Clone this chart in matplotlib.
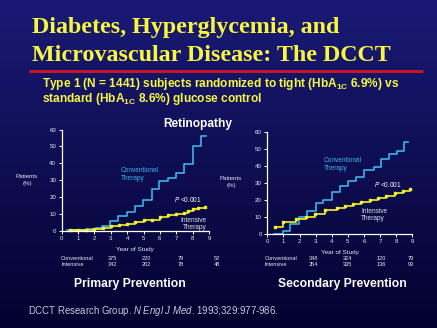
import numpy as np
import matplotlib
matplotlib.use("Agg")
import matplotlib.pyplot as plt
from matplotlib.colors import LinearSegmentedColormap

plt.rcParams['font.family'] = ['Liberation Sans', 'DejaVu Sans']
plt.rcParams['mathtext.fontset'] = 'custom'
plt.rcParams['mathtext.rm'] = 'Liberation Sans:bold'
plt.rcParams['mathtext.it'] = 'Liberation Sans:italic'

W, H = 437, 328

# ---------------- data ----------------
title_lines = ["Diabetes, Hyperglycemia, and", "Microvascular Disease: The DCCT"]
subtitle_lines = ["Type 1 (N = 1441) subjects randomized to tight (HbA$_{\\mathrm{1C}}$ 6.9%) vs",
                  "standard (HbA$_{\\mathrm{1C}}$ 8.6%) glucose control"]
x_ticks = [0, 1, 2, 3, 4, 5, 6, 7, 8, 9]
y_ticks = [0, 10, 20, 30, 40, 50, 60]

# Primary prevention
prim_conv_x = [0.3, 1.5, 2.1, 2.45, 2.95, 3.46, 3.97, 4.48, 4.99, 5.5, 5.97, 6.48, 6.99, 7.47, 8.0, 8.51, 8.8]
prim_conv_y = [0.2, 0.8, 1.4, 3.0, 5.7, 8.7, 11.2, 14.8, 18.1, 24.7, 29.4, 31.0, 34.3, 39.3, 50.1, 56.2, 56.2]
prim_int_x = [0.5, 1.0, 1.5, 2.0, 2.5, 3.0, 3.5, 4.0, 4.5, 5.0, 5.5, 6.0, 6.5, 7.0, 7.5, 7.7, 8.0, 8.35, 8.75]
prim_int_y = [0.2, 0.4, 0.6, 0.8, 1.5, 3.0, 3.3, 3.7, 4.9, 6.3, 6.4, 8.3, 9.1, 9.7, 10.3, 11.6, 12.6, 13.6, 13.8]
prim_table_x = [3.09, 5.19, 7.29, 9.47]
prim_conv_n = ["375", "220", "79", "52"]
prim_int_n = ["342", "202", "78", "48"]

# Secondary prevention
sec_conv_x = [0.41, 0.99, 1.4, 1.97, 2.48, 3.02, 3.48, 4.0, 4.5, 5.0, 5.5, 6.0, 6.6, 7.04, 7.58, 8.03, 8.5, 8.76]
sec_conv_y = [0.0, 1.6, 5.5, 10.0, 13.6, 18.3, 19.9, 24.8, 28.2, 31.2, 33.7, 37.7, 39.6, 44.2, 46.9, 49.0, 54.2, 54.2]
sec_int_x = [0.45, 0.97, 1.8, 2.42, 2.94, 3.56, 4.33, 4.8, 5.32, 5.84, 6.36, 6.87, 7.39, 7.9, 8.43, 8.84]
sec_int_y = [4.1, 6.9, 8.5, 9.7, 11.4, 14.0, 15.0, 16.6, 17.4, 18.5, 19.9, 21.1, 22.1, 23.9, 25.2, 26.6]
sec_table_x = [2.88, 4.99, 7.06, 8.94]
sec_conv_n = ["348", "324", "120", "79"]
sec_int_n = ["354", "335", "136", "93"]

CYAN = '#3cb4e8'
YELLOW = '#f2f22a'
TITLE_YELLOW = '#f7f740'
BG_TOP = (26/255, 26/255, 118/255)
BG_BOT = (2/255, 2/255, 48/255)
SMALL = '#e8e8f0'

fig = plt.figure(figsize=(W/100, H/100), dpi=100)

# background gradient
bg = fig.add_axes([0, 0, 1, 1])
cmap = LinearSegmentedColormap.from_list('bg', [BG_BOT, BG_TOP])
grad = np.linspace(0, 1, 256).reshape(-1, 1)
bg.imshow(grad, aspect='auto', cmap=cmap, origin='lower', extent=[0, 1, 0, 1])
bg.set_xlim(0, 1); bg.set_ylim(0, 1)
bg.axis('off')

def fx(px): return px / W
def fy(py): return 1 - py / H

# titles
fig.text(fx(32), fy(33), title_lines[0], family='Liberation Serif', weight='bold',
         color=TITLE_YELLOW, fontsize=17.3, va='baseline', ha='left')
fig.text(fx(32), fy(61), title_lines[1], family='Liberation Serif', weight='bold',
         color=TITLE_YELLOW, fontsize=17.3, va='baseline', ha='left')
bg.plot([fx(29), fx(423)], [fy(71), fy(71)], color='#c81428', lw=2.2, solid_capstyle='butt')
fig.text(fx(42), fy(87), subtitle_lines[0], weight='bold', color=TITLE_YELLOW,
         fontsize=8.6, va='baseline', ha='left')
fig.text(fx(42), fy(102), subtitle_lines[1], weight='bold', color=TITLE_YELLOW,
         fontsize=8.6, va='baseline', ha='left')
fig.text(fx(198), fy(124), "Retinopathy", weight='bold', color='white', fontsize=8.6,
         ha='center', va='center')

def setup(ax):
    ax.set_facecolor('none')
    ax.set_xlim(0, 9)
    ax.set_ylim(0, 60)
    for s in ['top', 'right']:
        ax.spines[s].set_visible(False)
    for s in ['left', 'bottom']:
        ax.spines[s].set_color('white')
        ax.spines[s].set_linewidth(0.9)
    ax.set_xticks(x_ticks)
    ax.set_yticks(y_ticks)
    ax.tick_params(colors='white', labelsize=4.4, length=2, width=0.7, pad=2)
    ax.tick_params(axis='both', labelcolor=SMALL)

def draw_panel(rect, cx, cy, ix, iy):
    ax = fig.add_axes(rect)
    setup(ax)
    ax.step(cx, cy, where='post', color=CYAN, lw=1.2, clip_on=False)
    ax.step(ix, iy, where='post', color=YELLOW, lw=1.2, clip_on=False)
    ax.plot(ix, iy, ls='none', marker='s', ms=1.7, color=YELLOW, clip_on=False)
    ax.set_xlabel("Year of Study", color=SMALL, fontsize=4.6, labelpad=4)
    return ax

ax1 = draw_panel([fx(61.7), fy(230.7), fx(209) - fx(61.7), fy(129.5) - fy(230.7)],
                 prim_conv_x, prim_conv_y, prim_int_x, prim_int_y)
ax2 = draw_panel([fx(267.3), fy(233.7), fx(412.3) - fx(267.3), fy(132.3) - fy(233.7)],
                 sec_conv_x, sec_conv_y, sec_int_x, sec_int_y)

# tables
for px0 in [61, 264.7]:
    fig.text(fx(px0), fy(259), "Conventional", color=SMALL, fontsize=4.1, va='center', ha='left')
    fig.text(fx(px0), fy(264.5), "Intensive", color=SMALL, fontsize=4.1, va='center', ha='left')

def tab(ax, tx, cn, inn, py_c, py_i):
    for x, c, i in zip(tx, cn, inn):
        xf = ax.transData.transform((x, 0))[0] / fig.dpi / fig.get_figwidth()
        fig.text(xf, fy(py_c), c, color=SMALL, fontsize=4.1, ha='center', va='center')
        fig.text(xf, fy(py_i), i, color=SMALL, fontsize=4.1, ha='center', va='center')

tab(ax1, prim_table_x, prim_conv_n, prim_int_n, 259, 264.5)
tab(ax2, sec_table_x, sec_conv_n, sec_int_n, 259, 264.5)

# y labels
fig.text(fx(27), fy(180), "Patients\n(%)", color=SMALL, fontsize=4.4, ha='center', va='center',
         linespacing=1.3)
fig.text(fx(231), fy(182), "Patients\n(%)", color=SMALL, fontsize=4.4, ha='center', va='center',
         linespacing=1.3)

# annotations
fig.text(fx(120.7), fy(174.5), "Conventional\nTherapy", color=CYAN, fontsize=4.7,
         ha='left', va='center', linespacing=1.25)
fig.text(fx(324), fy(164.7), "Conventional\nTherapy", color=CYAN, fontsize=4.7,
         ha='left', va='center', linespacing=1.25)
fig.text(fx(174), fy(200), "$\\it{P}$ <0.001", color='white', fontsize=4.7, ha='left', va='center')
fig.text(fx(373.7), fy(184), "$\\it{P}$ <0.001", color='white', fontsize=4.7, ha='left', va='center')
fig.text(fx(180), fy(220.3), "Intensive", color='#e0e0e8', fontsize=4.7, ha='left', va='center')
fig.text(fx(182.7), fy(227.3), "Therapy", color='#e0e0e8', fontsize=4.7, ha='left', va='center')
fig.text(fx(361.3), fy(211.7), "Intensive", color='#e0e0e8', fontsize=4.7, ha='left', va='center')
fig.text(fx(361.3), fy(219), "Therapy", color='#e0e0e8', fontsize=4.7, ha='left', va='center')

# panel labels
fig.text(fx(130), fy(284), "Primary Prevention", weight='bold', color='white', fontsize=8.7,
         ha='center', va='center')
fig.text(fx(342), fy(284), "Secondary Prevention", weight='bold', color='white', fontsize=8.7,
         ha='center', va='center')

# citation
fig.text(fx(28), fy(310.7), "DCCT Research Group. $\\it{N\\ Engl\\ J\\ Med}$. 1993;329:977-986.",
         color='#c8c8d8', fontsize=6.9, ha='left', va='center')

fig.savefig("out.png", dpi=100, facecolor=BG_BOT)
